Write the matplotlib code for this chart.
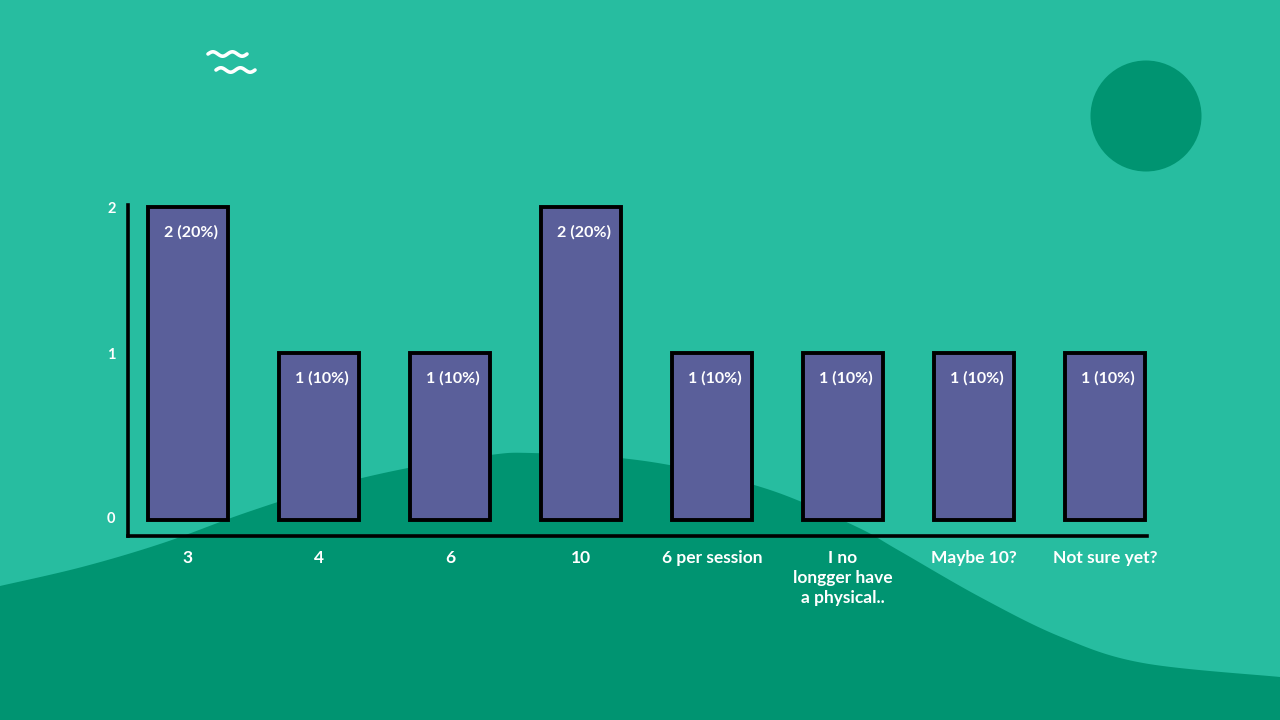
import numpy as np
import matplotlib
matplotlib.use("Agg")
from matplotlib import pyplot as plt
from matplotlib.patches import Circle, Polygon

categories = ['3', '4', '6', '10', '6 per session',
              'I no\nlongger have\na physical..', 'Maybe 10?', 'Not sure yet?']
counts = [2, 1, 1, 2, 1, 1, 1, 1]
percents = [20, 10, 10, 20, 10, 10, 10, 10]
y_ticks = [0, 1, 2]

# decorative wave outline (figure pixels, y from top)
wave_x = [0, 82, 163, 245, 327, 408, 490, 531, 620, 694, 776, 857, 898, 980, 1061, 1143, 1280]
wave_y = [586, 567, 543, 513, 487, 468, 455, 453, 458, 470, 492, 527, 550, 597, 637, 663, 677]

teal = '#27BDA0'
dark = '#009471'
bar_col = '#5A5F9A'
base = -0.144  # bars start a little below the zero line, as in the original

plt.rcParams['font.family'] = ['Lato', 'DejaVu Sans']
plt.rcParams['font.weight'] = 'bold'

fig = plt.figure(figsize=(12.8, 7.2), dpi=100)
fig.patch.set_facecolor(teal)

# background layer
bg = fig.add_axes([0, 0, 1, 1], zorder=0)
bg.set_xlim(0, 1280)
bg.set_ylim(720, 0)
bg.axis('off')


def catmull(xs, ys, n=20):
    p = np.column_stack([xs, ys]).astype(float)
    p = np.vstack([p[0], p, p[-1]])
    out = []
    for i in range(1, len(p) - 2):
        p0, p1, p2, p3 = p[i - 1], p[i], p[i + 1], p[i + 2]
        t = np.linspace(0, 1, n, endpoint=False)[:, None]
        out.append(0.5 * ((2 * p1) + (-p0 + p2) * t + (2 * p0 - 5 * p1 + 4 * p2 - p3) * t ** 2
                          + (-p0 + 3 * p1 - 3 * p2 + p3) * t ** 3))
    out.append(p[-2][None, :])
    return np.vstack(out)


curve = catmull(wave_x, wave_y)
poly = np.vstack([curve, [[1280, 720], [0, 720]]])
bg.add_patch(Polygon(poly, closed=True, facecolor=dark, edgecolor='none'))
bg.add_patch(Circle((1146, 116), 55.5, facecolor=dark, edgecolor='none'))

# little wave logo
for x0, y0 in [(208, 54), (216, 70)]:
    xx = np.linspace(0, 39, 80)
    bg.plot(x0 + xx, y0 - 2.2 * np.sin(xx / 39 * 4 * np.pi), color='white', lw=2.6,
            solid_capstyle='round')

# chart
ax = fig.add_axes([128 / 1280, 1 - 536 / 720, 1019 / 1280, 331 / 720], zorder=1)
ax.patch.set_alpha(0)
x = np.arange(len(categories))
heights = [c - base for c in counts]
bars = ax.bar(x, heights, bottom=base, width=0.615, color=bar_col, edgecolor='black',
              linewidth=2.8, zorder=3)
for b in bars:
    b.set_clip_on(False)
for xi, c, p in zip(x, counts, percents):
    ax.text(xi + 0.02, c - 0.175, f'{c} ({p}%)', ha='center', va='center', color='white',
            fontsize=11.5, fontweight='bold', zorder=4)

ax.set_xlim(-0.458, 7.32)
ax.set_ylim(-0.253, 2.014)
ax.set_yticks([base + 0.02, 1, 2])
ax.set_yticklabels([str(t) for t in y_ticks])
ax.set_xticks(x)
ax.set_xticklabels(categories, linespacing=1.32)
ax.tick_params(axis='both', length=0, colors='white', labelsize=12.5)
ax.tick_params(axis='x', pad=10)
ax.tick_params(axis='y', pad=9, labelsize=10.5)
for lab in ax.get_xticklabels() + ax.get_yticklabels():
    lab.set_fontweight('bold')
for s in ['top', 'right']:
    ax.spines[s].set_visible(False)
for s in ['left', 'bottom']:
    ax.spines[s].set_linewidth(2.6)
    ax.spines[s].set_color('black')

fig.savefig('out.png', dpi=100, facecolor=teal)
